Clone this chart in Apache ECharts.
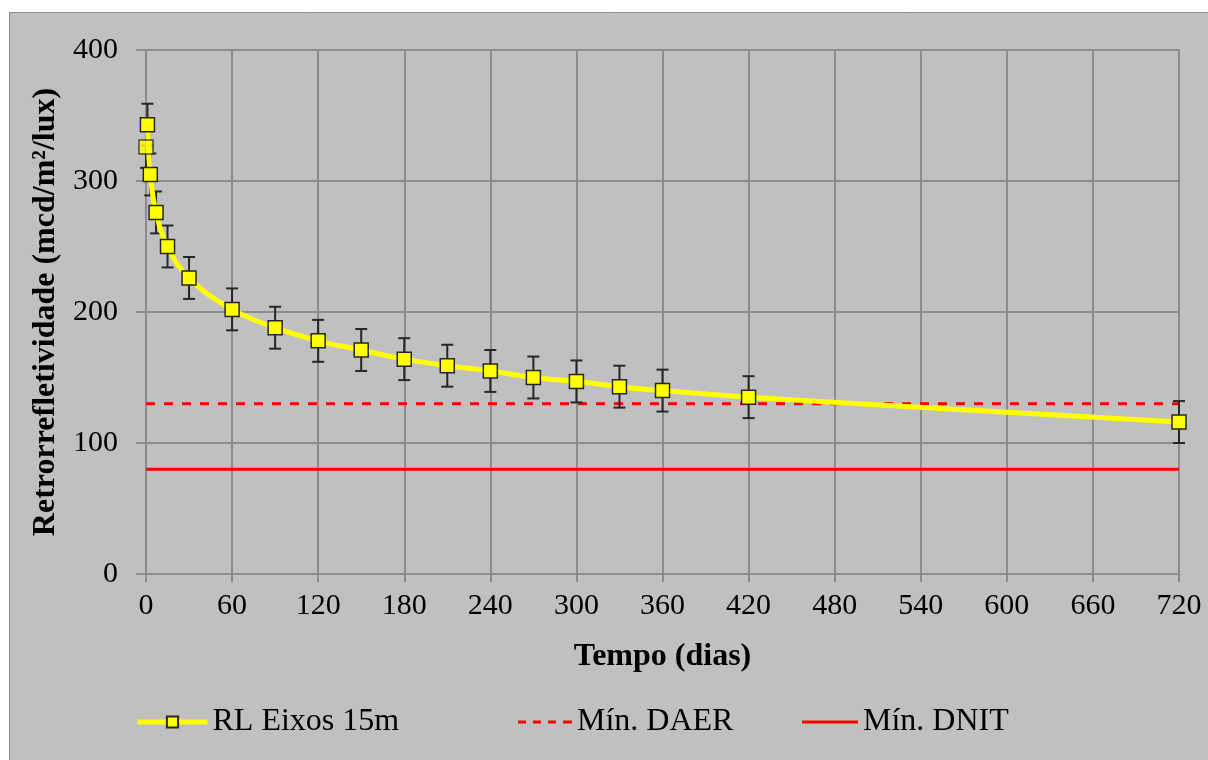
<!DOCTYPE html>
<html><head><meta charset="utf-8">
<script src="https://cdn.jsdelivr.net/npm/echarts@6/dist/echarts.min.js"></script>
<style>html,body{margin:0;padding:0;background:#fff;}#c{width:1208px;height:760px;}</style>
</head><body><div id="c"></div>
<script>
const days = [1, 3, 7, 15, 30, 60, 90, 120, 150, 180, 210, 240, 270, 300, 330, 360, 420, 720];
const rl = [343, 305, 276, 250, 226, 202, 188, 178, 171, 164, 159, 155, 150, 147, 143, 140, 135, 116];
const day0 = [0];
const rl0 = [326];
const errAll = 16;
const xTicks = [0, 60, 120, 180, 240, 300, 360, 420, 480, 540, 600, 660, 720];
const daer = 130;
const dnit = 80;

const font = '"Liberation Serif", "Times New Roman", serif';
const allX = day0.concat(days);
const allY = rl0.concat(rl);
const errData = allX.map((x, i) => [x, allY[i] - errAll, allY[i] + errAll]);

const legendText = {fontFamily: font, fontSize: 32, color: '#000'};
const chart = echarts.init(document.getElementById('c'));
chart.setOption({
  backgroundColor: 'transparent',
  animation: false,
  graphic: [{type: 'rect', z: -10, silent: true, shape: {x: 9.5, y: 12.5, width: 1210, height: 760},
    style: {fill: '#c0c0c0', stroke: '#8c8c8c', lineWidth: 1}}],
  grid: {left: 146, right: 29, top: 50, bottom: 186},
  xAxis: {type: 'value', min: 0, max: 720, interval: 60,
    name: 'Tempo (dias)', nameLocation: 'middle', nameGap: 67,
    nameTextStyle: {fontFamily: font, fontSize: 32, fontWeight: 'bold', color: '#000'},
    axisLine: {show: true, onZero: false, lineStyle: {color: '#8c8c8c', width: 2}},
    axisTick: {show: true, length: 8, lineStyle: {color: '#8c8c8c', width: 2}},
    axisLabel: {fontFamily: font, fontSize: 30, color: '#000', margin: 17,
      formatter: v => xTicks.includes(v) ? String(v) : ''},
    splitLine: {show: true, lineStyle: {color: '#8c8c8c', width: 2}}},
  yAxis: {type: 'value', min: 0, max: 400, interval: 100,
    name: 'Retrorrefletividade (mcd/m²/lux)', nameLocation: 'middle', nameGap: 82,
    nameTextStyle: {fontFamily: font, fontSize: 32, fontWeight: 'bold', color: '#000'},
    axisLine: {show: true, lineStyle: {color: '#8c8c8c', width: 2}},
    axisTick: {show: true, length: 10, lineStyle: {color: '#8c8c8c', width: 2}},
    axisLabel: {fontFamily: font, fontSize: 30, color: '#000', margin: 28},
    splitLine: {show: true, lineStyle: {color: '#8c8c8c', width: 2}}},
  legend: [
    {left: 135, top: 706, padding: 0, itemWidth: 70, itemHeight: 14, data: ['RL Eixos 15m'],
      lineStyle: {width: 5}, textStyle: legendText},
    {left: 518, top: 706, padding: 0, itemWidth: 54, itemHeight: 3,
      data: [{name: 'Mín. DAER', icon: 'path://M0,0h8v3h-8z M15,0h8v3h-8z M30,0h8v3h-8z M45,0h9v3h-9z'}],
      textStyle: legendText},
    {left: 802, top: 706, padding: 0, itemWidth: 56, itemHeight: 3,
      data: [{name: 'Mín. DNIT', icon: 'rect'}], textStyle: legendText}
  ],
  series: [
    {name: 'Mín. DNIT', type: 'line', data: [[0, dnit], [720, dnit]], symbol: 'none', z: 3,
      lineStyle: {color: '#ff0000', width: 3}, itemStyle: {color: '#ff0000'}},
    {name: 'Mín. DAER', type: 'line', data: [[0, daer], [720, daer]], symbol: 'none', z: 3,
      lineStyle: {color: '#ff0000', width: 3, type: [9, 9]}, itemStyle: {color: '#ff0000'}},
    {name: 'err', type: 'custom', z: 4, silent: true, data: errData,
      renderItem: function (params, api) {
        const x = api.value(0);
        const lo = api.coord([x, api.value(1)]);
        const hi = api.coord([x, api.value(2)]);
        const w = 6;
        const st = {stroke: '#262626', lineWidth: 2};
        return {type: 'group', children: [
          {type: 'line', shape: {x1: lo[0], y1: lo[1], x2: hi[0], y2: hi[1]}, style: st},
          {type: 'line', shape: {x1: lo[0] - w, y1: lo[1], x2: lo[0] + w, y2: lo[1]}, style: st},
          {type: 'line', shape: {x1: hi[0] - w, y1: hi[1], x2: hi[0] + w, y2: hi[1]}, style: st}
        ]};
      }},
    {name: 'RL Eixos 15m', type: 'line', z: 5, smooth: 0.4,
      data: days.map((d, i) => [d, rl[i]]),
      symbol: 'rect', symbolSize: 14, showSymbol: true,
      lineStyle: {color: '#ffff00', width: 5},
      itemStyle: {color: '#ffff00', borderColor: '#262626', borderWidth: 1.5}},
    {name: 'RL0', type: 'scatter', z: 6,
      data: day0.map((d, i) => [d, rl0[i]]),
      symbol: 'rect', symbolSize: 14,
      itemStyle: {color: '#ffff00', borderColor: '#262626', borderWidth: 1.5}}
  ]
});
</script></body></html>
